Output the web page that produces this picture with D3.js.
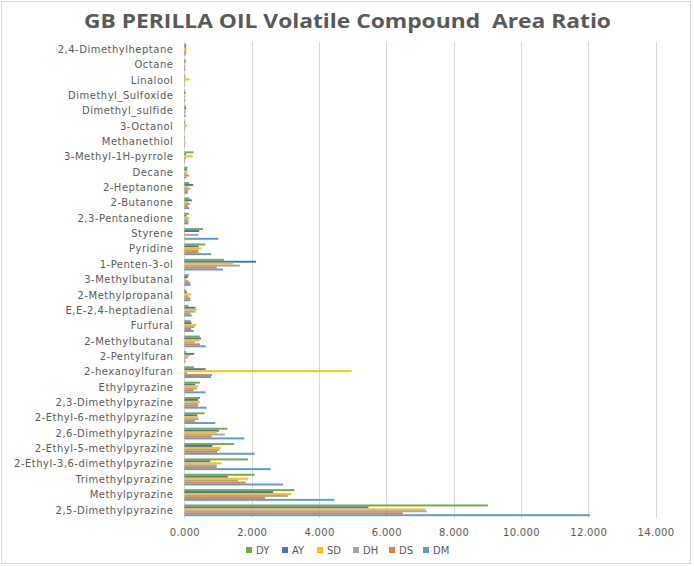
<!DOCTYPE html>
<html>
<head>
<meta charset="utf-8">
<script src="https://cdn.jsdelivr.net/npm/d3@7/dist/d3.min.js"></script>
<style>
  html, body { margin: 0; padding: 0; background: #fff; }
  svg { display: block; }
</style>
</head>
<body>
<svg id="chart" width="694" height="566"></svg>
<script>
const categories = [
  "2,4-Dimethylheptane", "Octane", "Linalool", "Dimethyl_Sulfoxide", "Dimethyl_sulfide",
  "3-Octanol", "Methanethiol", "3-Methyl-1H-pyrrole", "Decane", "2-Heptanone",
  "2-Butanone", "2,3-Pentanedione", "Styrene", "Pyridine", "1-Penten-3-ol",
  "3-Methylbutanal", "2-Methylpropanal", "E,E-2,4-heptadienal", "Furfural", "2-Methylbutanal",
  "2-Pentylfuran", "2-hexanoylfuran", "Ethylpyrazine", "2,3-Dimethylpyrazine", "2-Ethyl-6-methylpyrazine",
  "2,6-Dimethylpyrazine", "2-Ethyl-5-methylpyrazine", "2-Ethyl-3,6-dimethylpyrazine", "Trimethylpyrazine", "Methylpyrazine",
  "2,5-Dimethylpyrazine"
];
const seriesNames = ["DY", "AY", "SD", "DH", "DS", "DM"];
const seriesColors = ["#70AD47", "#4472C4", "#FFC000", "#A5A5A5", "#ED7D31", "#5B9BD5"];

const DY = [0.06,0.04,0.03,0.02,0.04,0.03,0.02,0.27,0.09,0.14,0.15,0.14,0.55,0.62,1.18,0.13,0.05,0.12,0.19,0.46,0.05,0.28,0.46,0.46,0.60,1.28,1.47,1.89,2.09,3.27,9.02];
const AY = [0.05,0.03,0.02,0.04,0.05,0.02,0.01,0.05,0.08,0.26,0.22,0.06,0.44,0.42,2.13,0.10,0.08,0.33,0.21,0.49,0.29,0.63,0.32,0.41,0.38,1.03,0.83,0.77,1.29,2.64,5.47];
const SD = [0.07,0.02,0.16,0.02,0.05,0.08,0.03,0.25,0.10,0.12,0.12,0.15,0.02,0.50,1.45,0.06,0.20,0.37,0.35,0.44,0.15,4.97,0.40,0.46,0.40,0.96,1.08,1.11,1.89,3.17,7.17];
const DH = [0.05,0.03,0.03,0.03,0.04,0.03,0.03,0.05,0.07,0.18,0.16,0.12,0.42,0.42,1.65,0.12,0.12,0.33,0.30,0.31,0.09,0.08,0.38,0.42,0.43,1.20,1.04,0.96,1.60,3.07,7.20];
const DS = [0.06,0.02,0.01,0.01,0.02,0.02,0.02,0.02,0.13,0.10,0.10,0.12,0.01,0.41,0.96,0.17,0.17,0.18,0.20,0.46,0.02,0.82,0.27,0.40,0.31,0.81,0.97,0.96,1.82,2.40,6.49];
const DM = [0.04,0.03,0.02,0.03,0.04,0.01,0.01,0.02,0.06,0.10,0.14,0.12,1.01,0.80,1.15,0.18,0.17,0.22,0.28,0.63,0.04,0.79,0.63,0.66,0.92,1.78,2.09,2.56,2.93,4.46,12.05];
const seriesValues = [DY, AY, SD, DH, DS, DM];

const xTicks = [0, 2, 4, 6, 8, 10, 12, 14];
const titleText = "GB PERILLA OIL Volatile Compound  Area Ratio";

const svg = d3.select("#chart");
const fontFam = "'DejaVu Sans', sans-serif";
const textColor = "#595959";

// frame
svg.append("rect").attr("x", 1.5).attr("y", 1.5).attr("width", 689).attr("height", 562)
  .attr("fill", "#fff").attr("stroke", "#D9D9D9").attr("stroke-width", 1);

const plot = { left: 184.4, right: 655.5, top: 42, bottom: 518 };

const x = d3.scaleLinear().domain([0, 14]).range([plot.left, plot.right]);
const y = d3.scaleBand().domain(categories).range([plot.top, plot.bottom]).paddingInner(0.24).paddingOuter(0.12);
const ys = d3.scaleBand().domain(seriesNames).range([0, y.bandwidth()]);

// gridlines
svg.append("g").selectAll("line").data(xTicks).join("line")
  .attr("x1", d => Math.round(x(d)) + 0.5).attr("x2", d => Math.round(x(d)) + 0.5)
  .attr("y1", plot.top).attr("y2", plot.bottom)
  .attr("stroke", "#D9D9D9").attr("stroke-width", 1);

// bars
const rows = [];
categories.forEach((c, i) => {
  seriesNames.forEach((s, j) => rows.push({ c, s, v: seriesValues[j][i], color: seriesColors[j] }));
});
svg.append("g").selectAll("rect").data(rows).join("rect")
  .attr("x", x(0))
  .attr("y", d => y(d.c) + ys(d.s))
  .attr("width", d => Math.max(0, x(d.v) - x(0)))
  .attr("height", ys.bandwidth())
  .attr("fill", d => d.color);

// category axis
const yAxis = d3.axisLeft(y).tickSize(0).tickPadding(11);
const gy = svg.append("g").attr("transform", `translate(${plot.left},0)`).call(yAxis);
gy.select(".domain").remove();
gy.selectAll("text").attr("font-family", fontFam).attr("font-size", 10)
  .attr("letter-spacing", 0.5).attr("fill", textColor);

// value axis
const xAxis = d3.axisBottom(x).tickValues(xTicks).tickSize(0).tickPadding(11).tickFormat(d3.format(".3f"));
const gx = svg.append("g").attr("transform", `translate(0,${plot.bottom})`).call(xAxis);
gx.select(".domain").remove();
gx.selectAll("text").attr("font-family", fontFam).attr("font-size", 10)
  .attr("letter-spacing", 0.3).attr("fill", textColor);

// title
svg.append("text").attr("x", 347.5).attr("y", 28).attr("text-anchor", "middle")
  .attr("font-family", "'Open Sans', sans-serif").attr("font-weight", "bold").attr("font-size", 19)
  .attr("fill", textColor).attr("textLength", 527).attr("lengthAdjust", "spacingAndGlyphs")
  .attr("xml:space", "preserve").style("white-space", "pre")
  .text(titleText);

// legend
const legendX = [246, 282, 317, 353, 389, 423];
const lg = svg.append("g");
seriesNames.forEach((s, j) => {
  lg.append("rect").attr("x", legendX[j]).attr("y", 547).attr("width", 6).attr("height", 6).attr("fill", seriesColors[j]);
  lg.append("text").attr("x", legendX[j] + 10).attr("y", 553.5)
    .attr("font-family", fontFam).attr("font-size", 10).attr("fill", textColor).text(s);
});
</script>
</body>
</html>
